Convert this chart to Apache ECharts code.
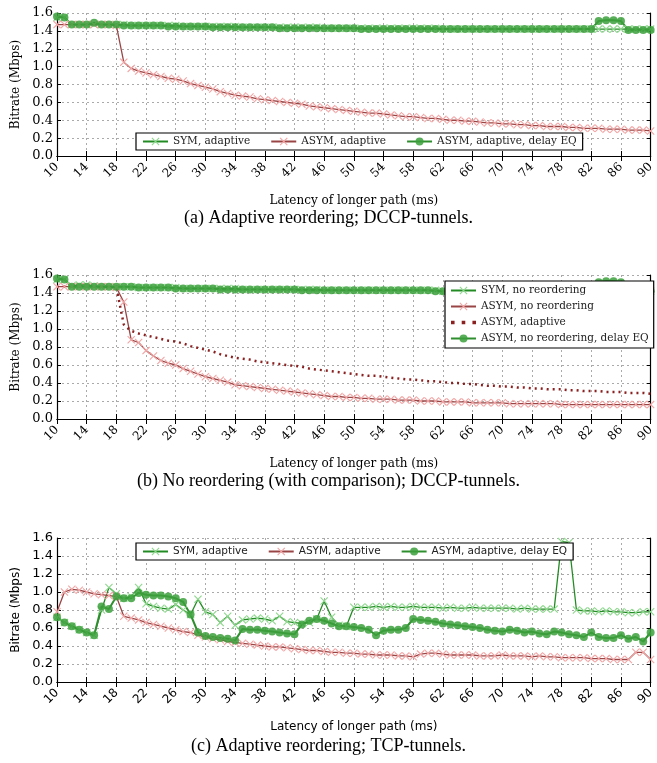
<!doctype html>
<html>
<head>
    <meta charset="UTF-8" />
    <title>Bitrate vs latency</title>
    <script src="https://cdn.jsdelivr.net/npm/echarts@6/dist/echarts.min.js"></script>
    <style>
        html, body { margin: 0; padding: 0; background: #fff; }
        #chart { width: 657px; height: 763px; }
    </style>
</head>
<body>
    <div id="chart"></div>
    <script>
        // x categories: latency of longer path (ms)
        var latency = [10, 11, 12, 13, 14, 15, 16, 17, 18, 19, 20, 21, 22, 23, 24, 25, 26, 27, 28, 29,
            30, 31, 32, 33, 34, 35, 36, 37, 38, 39, 40, 41, 42, 43, 44, 45, 46, 47, 48, 49,
            50, 51, 52, 53, 54, 55, 56, 57, 58, 59, 60, 61, 62, 63, 64, 65, 66, 67, 68, 69,
            70, 71, 72, 73, 74, 75, 76, 77, 78, 79, 80, 81, 82, 83, 84, 85, 86, 87, 88, 89, 90];
        var yTicks = [0, 0.2, 0.4, 0.6, 0.8, 1.0, 1.2, 1.4, 1.6];

        // (a) adaptive reordering, DCCP-tunnels
        var symAdaptiveA = [1.55, 1.55, 1.47, 1.47, 1.47, 1.47, 1.47, 1.47, 1.47, 1.47,
            1.46, 1.46, 1.46, 1.46, 1.46, 1.46, 1.46, 1.45, 1.45, 1.45,
            1.45, 1.45, 1.45, 1.45, 1.45, 1.44, 1.44, 1.44, 1.44, 1.44,
            1.44, 1.44, 1.44, 1.44, 1.44, 1.44, 1.43, 1.43, 1.43, 1.43,
            1.43, 1.43, 1.43, 1.43, 1.43, 1.43, 1.43, 1.43, 1.43, 1.43,
            1.43, 1.43, 1.42, 1.42, 1.42, 1.42, 1.42, 1.42, 1.42, 1.42,
            1.42, 1.42, 1.42, 1.42, 1.42, 1.42, 1.42, 1.42, 1.42, 1.42,
            1.42, 1.42, 1.42, 1.42, 1.42, 1.42, 1.42, 1.42, 1.42, 1.42, 1.42];
        var asymAdaptiveA = [1.47, 1.47, 1.47, 1.47, 1.47, 1.47, 1.47, 1.47, 1.46, 1.05,
            0.98, 0.95, 0.93, 0.91, 0.89, 0.87, 0.86, 0.84, 0.81, 0.79,
            0.77, 0.75, 0.72, 0.70, 0.68, 0.67, 0.66, 0.64, 0.63, 0.62,
            0.61, 0.60, 0.59, 0.58, 0.56, 0.55, 0.54, 0.53, 0.52, 0.51,
            0.50, 0.49, 0.48, 0.48, 0.47, 0.46, 0.45, 0.44, 0.44, 0.43,
            0.42, 0.42, 0.41, 0.40, 0.40, 0.39, 0.39, 0.38, 0.37, 0.37,
            0.36, 0.36, 0.35, 0.35, 0.34, 0.34, 0.33, 0.33, 0.33, 0.32,
            0.32, 0.31, 0.31, 0.31, 0.30, 0.30, 0.30, 0.29, 0.29, 0.29, 0.28];
        var delayEqA = [1.56, 1.55, 1.47, 1.47, 1.47, 1.49, 1.47, 1.47, 1.47, 1.46,
            1.46, 1.46, 1.46, 1.46, 1.46, 1.45, 1.45, 1.45, 1.45, 1.45,
            1.45, 1.44, 1.44, 1.44, 1.44, 1.44, 1.44, 1.44, 1.44, 1.44,
            1.43, 1.43, 1.43, 1.43, 1.43, 1.43, 1.43, 1.43, 1.43, 1.43,
            1.43, 1.42, 1.42, 1.42, 1.42, 1.42, 1.42, 1.42, 1.42, 1.42,
            1.42, 1.42, 1.42, 1.42, 1.42, 1.42, 1.42, 1.42, 1.42, 1.42,
            1.42, 1.42, 1.42, 1.42, 1.42, 1.42, 1.42, 1.42, 1.42, 1.42,
            1.42, 1.42, 1.42, 1.51, 1.52, 1.52, 1.51, 1.41, 1.41, 1.41, 1.41];

        // (b) no reordering, DCCP-tunnels
        var symNoReorderB = [1.55, 1.55, 1.48, 1.49, 1.49, 1.48, 1.47, 1.47, 1.47, 1.47,
            1.47, 1.46, 1.46, 1.46, 1.46, 1.46, 1.46, 1.45, 1.45, 1.45,
            1.45, 1.45, 1.45, 1.45, 1.45, 1.44, 1.44, 1.44, 1.44, 1.44,
            1.44, 1.44, 1.44, 1.44, 1.44, 1.44, 1.43, 1.43, 1.43, 1.43,
            1.43, 1.43, 1.43, 1.43, 1.43, 1.43, 1.43, 1.43, 1.43, 1.43,
            1.43, 1.43, 1.42, 1.42, 1.42, 1.42, 1.42, 1.42, 1.42, 1.42,
            1.42, 1.42, 1.42, 1.42, 1.42, 1.42, 1.42, 1.42, 1.42, 1.42,
            1.42, 1.42, 1.42, 1.42, 1.42, 1.42, 1.42, 1.42, 1.42, 1.42, 1.42];
        var asymNoReorderB = [1.47, 1.47, 1.47, 1.47, 1.47, 1.47, 1.47, 1.47, 1.46, 1.30,
            0.88, 0.85, 0.76, 0.70, 0.65, 0.62, 0.60, 0.56, 0.53, 0.50,
            0.47, 0.45, 0.43, 0.41, 0.38, 0.37, 0.36, 0.35, 0.34, 0.33,
            0.32, 0.31, 0.30, 0.29, 0.28, 0.27, 0.26, 0.25, 0.25, 0.24,
            0.24, 0.23, 0.23, 0.22, 0.22, 0.22, 0.21, 0.21, 0.21, 0.20,
            0.20, 0.20, 0.19, 0.19, 0.19, 0.19, 0.18, 0.18, 0.18, 0.18,
            0.18, 0.17, 0.17, 0.17, 0.17, 0.17, 0.17, 0.17, 0.16, 0.16,
            0.16, 0.16, 0.16, 0.16, 0.16, 0.16, 0.16, 0.16, 0.16, 0.16, 0.16];
        // the dotted comparison curve is the (a) ASYM adaptive run
        var asymAdaptiveB = asymAdaptiveA;
        var delayEqB = [1.56, 1.55, 1.47, 1.47, 1.47, 1.47, 1.47, 1.47, 1.47, 1.47,
            1.47, 1.46, 1.46, 1.46, 1.46, 1.46, 1.45, 1.45, 1.45, 1.45,
            1.45, 1.45, 1.44, 1.44, 1.44, 1.44, 1.44, 1.44, 1.44, 1.44,
            1.44, 1.44, 1.44, 1.43, 1.43, 1.43, 1.43, 1.43, 1.43, 1.43,
            1.43, 1.43, 1.43, 1.43, 1.43, 1.43, 1.43, 1.43, 1.43, 1.43,
            1.43, 1.42, 1.42, 1.42, 1.42, 1.42, 1.42, 1.42, 1.42, 1.42,
            1.42, 1.42, 1.42, 1.42, 1.42, 1.42, 1.42, 1.42, 1.42, 1.42,
            1.42, 1.42, 1.42, 1.52, 1.53, 1.53, 1.52, 1.42, 1.42, 1.42, 1.42];

        // (c) adaptive reordering, TCP-tunnels
        var symAdaptiveC = [0.72, 0.66, 0.62, 0.58, 0.55, 0.52, 0.80, 1.05, 0.98, 0.93,
            0.95, 1.05, 0.87, 0.84, 0.82, 0.81, 0.86, 0.80, 0.75, 0.92,
            0.78, 0.75, 0.66, 0.73, 0.63, 0.69, 0.70, 0.71, 0.70, 0.68,
            0.73, 0.67, 0.66, 0.65, 0.66, 0.70, 0.90, 0.72, 0.63, 0.62,
            0.83, 0.83, 0.83, 0.84, 0.83, 0.84, 0.83, 0.83, 0.84, 0.83,
            0.83, 0.83, 0.82, 0.83, 0.82, 0.82, 0.83, 0.82, 0.82, 0.82,
            0.82, 0.82, 0.81, 0.82, 0.81, 0.81, 0.81, 0.81, 1.56, 1.55,
            0.80, 0.79, 0.79, 0.78, 0.79, 0.78, 0.78, 0.77, 0.77, 0.78, 0.78];
        var asymAdaptiveC = [0.78, 1.00, 1.03, 1.02, 1.00, 0.98, 0.97, 0.96, 0.95, 0.73,
            0.71, 0.69, 0.66, 0.64, 0.62, 0.60, 0.58, 0.56, 0.55, 0.52,
            0.50, 0.48, 0.47, 0.45, 0.44, 0.43, 0.42, 0.41, 0.40, 0.39,
            0.39, 0.38, 0.37, 0.36, 0.35, 0.35, 0.34, 0.33, 0.33, 0.32,
            0.32, 0.31, 0.31, 0.30, 0.30, 0.30, 0.29, 0.29, 0.28, 0.31,
            0.32, 0.32, 0.31, 0.30, 0.30, 0.30, 0.30, 0.29, 0.29, 0.29,
            0.30, 0.29, 0.29, 0.29, 0.28, 0.29, 0.28, 0.28, 0.27, 0.27,
            0.27, 0.27, 0.26, 0.26, 0.26, 0.25, 0.25, 0.25, 0.33, 0.33, 0.25];
        var delayEqC = [0.72, 0.66, 0.62, 0.58, 0.55, 0.52, 0.84, 0.81, 0.95, 0.93,
            0.93, 0.99, 0.97, 0.96, 0.96, 0.95, 0.93, 0.89, 0.75, 0.55,
            0.51, 0.50, 0.49, 0.48, 0.46, 0.59, 0.58, 0.58, 0.57, 0.56,
            0.55, 0.54, 0.53, 0.64, 0.68, 0.70, 0.68, 0.65, 0.62, 0.62,
            0.61, 0.60, 0.58, 0.52, 0.57, 0.58, 0.58, 0.60, 0.70, 0.69,
            0.68, 0.67, 0.65, 0.64, 0.63, 0.62, 0.61, 0.60, 0.58, 0.57,
            0.56, 0.58, 0.57, 0.55, 0.56, 0.54, 0.53, 0.56, 0.55, 0.53,
            0.52, 0.50, 0.55, 0.50, 0.49, 0.49, 0.52, 0.48, 0.50, 0.45, 0.55];

        var captions = [
            '(a) Adaptive reordering; DCCP-tunnels.',
            '(b) No reordering (with comparison); DCCP-tunnels.',
            '(c) Adaptive reordering; TCP-tunnels.'
        ];

        var X_MARK = 'path://M0,1L1,0L5,4L9,0L10,1L6,5L10,9L9,10L5,6L1,10L0,9L4,5Z';
        var DOTS_ICON = 'path://M0,4h2v2h-2zM6,4h2v2h-2zM12,4h2v2h-2z';
        var SERIF = 'DejaVu Serif';
        var SANS = 'DejaVu Sans';

        // plot rectangles, px
        var grids = [
            { left: 57, top: 13, width: 596, height: 143 },
            { left: 57, top: 275, width: 596, height: 144 },
            { left: 57, top: 538, width: 596, height: 144 }
        ];
        var fonts = [SERIF, SERIF, SANS];

        var xAxes = [], yAxes = [];
        grids.forEach(function (g, i) {
            xAxes.push({
                type: 'category', gridIndex: i, data: latency, boundaryGap: false,
                name: 'Latency of longer path (ms)', nameLocation: 'middle', nameGap: 39,
                nameTextStyle: { fontFamily: fonts[i], fontSize: 12, color: '#000' },
                axisLine: { lineStyle: { color: '#000', width: 1.2 } },
                axisTick: { inside: true, length: 5, interval: 3, lineStyle: { color: '#000' } },
                axisLabel: { interval: 3, rotate: 45, margin: 9, fontFamily: fonts[i], fontSize: 12, color: '#000' },
                splitLine: { show: true, interval: 3, lineStyle: { color: '#aaa', type: [2, 3] } }
            });
            xAxes.push({
                type: 'category', gridIndex: i, data: latency, boundaryGap: false, position: 'top',
                axisLine: { lineStyle: { color: '#000', width: 1.2 } },
                axisTick: { inside: true, length: 5, interval: 3, lineStyle: { color: '#000' } },
                axisLabel: { show: false }, splitLine: { show: false }
            });
            yAxes.push({
                type: 'value', gridIndex: i, min: yTicks[0], max: yTicks[yTicks.length - 1], interval: 0.2,
                name: 'Bitrate (Mbps)', nameLocation: 'middle', nameGap: 27,
                nameTextStyle: { fontFamily: fonts[i], fontSize: 12, color: '#000' },
                axisLine: { show: true, lineStyle: { color: '#000', width: 1.2 } },
                axisTick: { show: true, inside: true, length: 4, lineStyle: { color: '#000' } },
                axisLabel: { fontFamily: fonts[i], fontSize: 13, color: '#000', margin: 4,
                    formatter: function (v) { return v.toFixed(1); } },
                splitLine: { show: true, lineStyle: { color: '#aaa', type: [2, 3] } }
            });
            yAxes.push({
                type: 'value', gridIndex: i, min: yTicks[0], max: yTicks[yTicks.length - 1], interval: 0.2,
                position: 'right',
                axisLine: { show: true, lineStyle: { color: '#000', width: 1.2 } },
                axisTick: { show: true, inside: true, length: 4, lineStyle: { color: '#000' } },
                axisLabel: { show: false }, splitLine: { show: false }
            });
        });

        function crossLine(name, data, gi, lineColor, markColor) {
            return {
                name: name, type: 'line', xAxisIndex: gi * 2, yAxisIndex: gi * 2, data: data,
                symbol: X_MARK, symbolSize: 8, showAllSymbol: true,
                lineStyle: { color: lineColor, width: 1.3 },
                itemStyle: { color: markColor },
                emphasis: { disabled: true }
            };
        }
        function dotLine(name, data, gi) {
            return {
                name: name, type: 'line', xAxisIndex: gi * 2, yAxisIndex: gi * 2, data: data,
                symbol: 'circle', symbolSize: 8, showAllSymbol: true,
                lineStyle: { color: '#2f8f2f', width: 2 },
                itemStyle: { color: 'rgba(60,160,60,0.85)' },
                emphasis: { disabled: true }
            };
        }

        var GREEN = '#238b23', LIGHT_GREEN = '#8fd88f';
        var RED = '#9a4545', PINK = '#f2a6a6';

        var series = [
            crossLine('a: SYM, adaptive', symAdaptiveA, 0, GREEN, LIGHT_GREEN),
            crossLine('a: ASYM, adaptive', asymAdaptiveA, 0, RED, PINK),
            dotLine('a: ASYM, adaptive, delay EQ', delayEqA, 0),

            crossLine('b: SYM, no reordering', symNoReorderB, 1, GREEN, LIGHT_GREEN),
            crossLine('b: ASYM, no reordering', asymNoReorderB, 1, RED, PINK),
            {
                name: 'b: ASYM, adaptive', type: 'line', xAxisIndex: 2, yAxisIndex: 2,
                data: asymAdaptiveB, symbol: 'none',
                lineStyle: { color: '#8b2020', width: 2.5, type: [2, 4] },
                itemStyle: { color: '#8b2020' }, emphasis: { disabled: true }
            },
            dotLine('b: ASYM, no reordering, delay EQ', delayEqB, 1),

            crossLine('c: SYM, adaptive', symAdaptiveC, 2, GREEN, LIGHT_GREEN),
            crossLine('c: ASYM, adaptive', asymAdaptiveC, 2, RED, PINK),
            dotLine('c: ASYM, adaptive, delay EQ', delayEqC, 2)
        ];

        function legendFor(prefix, font, size, pos) {
            var names = series.filter(function (s) { return s.name.indexOf(prefix) === 0; })
                .map(function (s) {
                    return s.symbol === 'none' ? { name: s.name, icon: DOTS_ICON } : { name: s.name };
                });
            return Object.assign({
                data: names,
                formatter: function (n) { return n.slice(3); },
                backgroundColor: '#fff', borderColor: '#000', borderWidth: 1.2, borderRadius: 0,
                itemWidth: 25, itemHeight: 10, selectedMode: false,
                textStyle: { fontFamily: font, fontSize: size, color: '#222' }
            }, pos);
        }

        var option = {
            animation: false,
            backgroundColor: '#fff',
            title: captions.map(function (t, i) {
                return {
                    text: t, left: 'center', top: [204, 467, 732][i],
                    textStyle: { fontFamily: 'Liberation Serif', fontSize: 18, fontWeight: 'normal', color: '#000' }
                };
            }),
            grid: grids,
            xAxis: xAxes,
            yAxis: yAxes,
            legend: [
                legendFor('a:', SERIF, 10.5, { left: 136, top: 133, orient: 'horizontal', itemGap: 20, padding: [3, 6] }),
                legendFor('b:', SERIF, 10.5, { left: 445, top: 281, orient: 'vertical', itemGap: 5, padding: [4, 5] }),
                legendFor('c:', SANS, 10.5, { left: 136, top: 543, orient: 'horizontal', itemGap: 20, padding: [3, 6] })
            ],
            series: series
        };

        var chart = echarts.init(document.getElementById('chart'));
        chart.setOption(option);
    </script>
</body>
</html>
